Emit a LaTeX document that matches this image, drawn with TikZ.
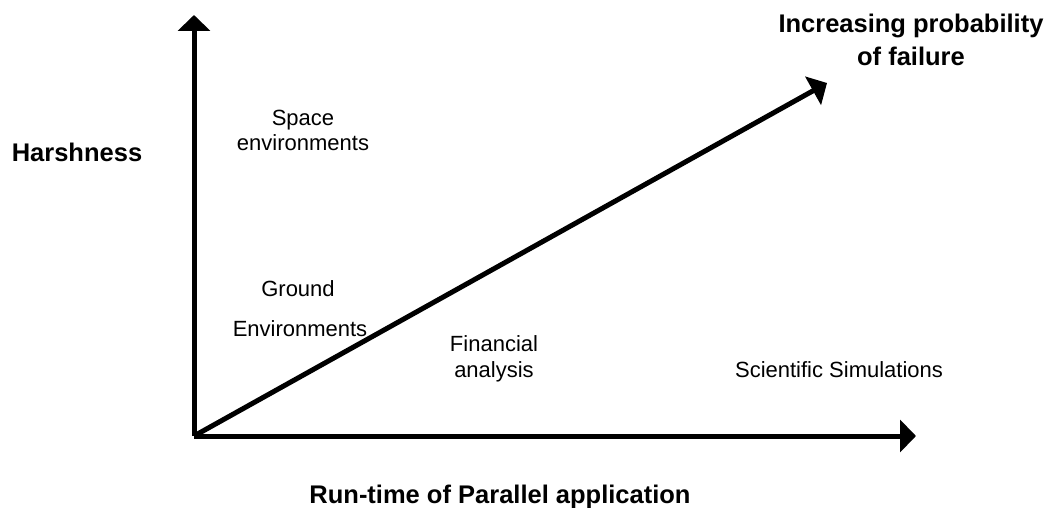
\documentclass[tikz,border=0pt]{standalone}
\usepackage{fontspec}
\setmainfont{Liberation Sans}
\usetikzlibrary{arrows.meta,positioning}
\definecolor{ink}{HTML}{000000}
\tikzset{
  axis/.style={ink,line width=5pt,-{Triangle[length=16pt,width=32pt]}},
  blbl/.style={font=\fontsize{25.5}{33}\selectfont\bfseries,inner sep=0pt,anchor=base,align=center},
  rlbl/.style={font=\fontsize{22}{25.5}\selectfont,inner sep=0pt,anchor=base,align=center},
}
\begin{document}
\begin{tikzpicture}[x=1pt,y=-1pt]
  \useasboundingbox (0,0) rectangle (1050,508);
  % ---------- axes ----------
  \coordinate (o) at (194,436);
  \coordinate (ytip) at (194,15);
  \coordinate (xtip) at (916,436);
  \coordinate (dtip) at (827,83);
  \draw[axis] (o) -- (ytip);
  \draw[axis] (o) -- (xtip);
  \draw[axis] (o) -- (dtip);
  % ---------- axis labels ----------
  \node[blbl] (harsh) at (77,161) {Harshness};
  \node[blbl] (runtime) at (500,503) {Run-time of Parallel application};
  \node[blbl] (prob) at (911,66) {Increasing probability\\of failure};
  % ---------- applications ----------
  \node[rlbl] (space) at (303,151) {Space\\environments};
  \node[rlbl] (ground) at (298,296) {Ground};
  \node[rlbl] (groundenv) at (300,336) {Environments};
  \node[rlbl] (fin) at (494,377) {Financial\\analysis};
  \node[rlbl] (sci) at (839,377) {Scientific Simulations};
\end{tikzpicture}
\end{document}
